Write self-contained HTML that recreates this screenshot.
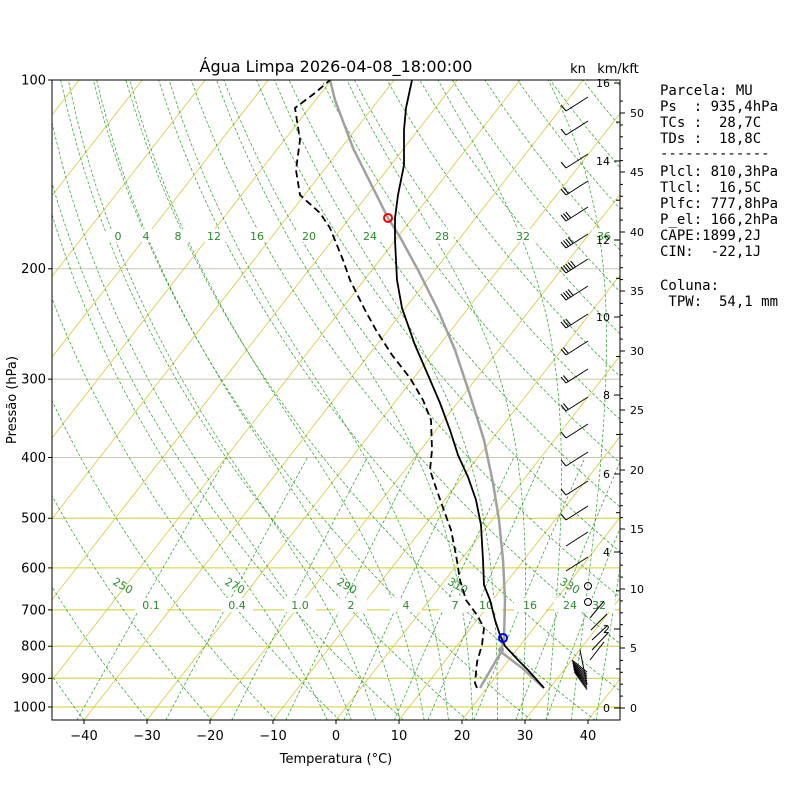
<!DOCTYPE html>
<html><head><meta charset="utf-8"><style>
html,body{margin:0;padding:0;background:#fff;}
svg text{font-family:"DejaVu Sans","Liberation Sans",sans-serif;}
</style></head><body>
<svg id="s" width="800" height="800" xmlns="http://www.w3.org/2000/svg">
<defs><clipPath id="c"><rect x="52" y="80" width="568" height="640"/></clipPath></defs>
<rect width="800" height="800" fill="#fff"/>
<g id="bg" clip-path="url(#c)"></g>
<g id="fg" clip-path="url(#c)"></g>
<rect x="52" y="80" width="568" height="640" fill="none" stroke="#000" stroke-width="1"/>
<g id="ax"></g>
<text x="336" y="72" font-size="16" text-anchor="middle">Água Limpa 2026-04-08_18:00:00</text>
<text x="336" y="763" font-size="13" text-anchor="middle">Temperatura (°C)</text>
<text transform="translate(16,400) rotate(-90)" font-size="13" text-anchor="middle">Pressão (hPa)</text>
<text x="578" y="73" font-size="13" text-anchor="middle">kn</text>
<text x="618" y="73" font-size="13" text-anchor="middle">km/kft</text>
<g font-size="14">
<text x="660" y="95" xml:space="preserve" style="font-family:'DejaVu Sans Mono',monospace">Parcela: MU</text>
<text x="660" y="111" xml:space="preserve" style="font-family:'DejaVu Sans Mono',monospace">Ps  : 935,4hPa</text>
<text x="660" y="127" xml:space="preserve" style="font-family:'DejaVu Sans Mono',monospace">TCs :  28,7C</text>
<text x="660" y="143" xml:space="preserve" style="font-family:'DejaVu Sans Mono',monospace">TDs :  18,8C</text>
<text x="660" y="158" xml:space="preserve" style="font-family:'DejaVu Sans Mono',monospace">-------------</text>
<text x="660" y="176" xml:space="preserve" style="font-family:'DejaVu Sans Mono',monospace">Plcl: 810,3hPa</text>
<text x="660" y="192" xml:space="preserve" style="font-family:'DejaVu Sans Mono',monospace">Tlcl:  16,5C</text>
<text x="660" y="208" xml:space="preserve" style="font-family:'DejaVu Sans Mono',monospace">Plfc: 777,8hPa</text>
<text x="660" y="224" xml:space="preserve" style="font-family:'DejaVu Sans Mono',monospace">P_el: 166,2hPa</text>
<text x="660" y="240" xml:space="preserve" style="font-family:'DejaVu Sans Mono',monospace">CAPE:1899,2J</text>
<text x="660" y="256" xml:space="preserve" style="font-family:'DejaVu Sans Mono',monospace">CIN:  -22,1J</text>
<text x="660" y="290" xml:space="preserve" style="font-family:'DejaVu Sans Mono',monospace">Coluna:</text>
<text x="660" y="306" xml:space="preserve" style="font-family:'DejaVu Sans Mono',monospace"> TPW:  54,1 mm</text>
</g>
</svg>
<script>
var NS="http://www.w3.org/2000/svg";
var S=0.78,K=6.3,X0=336;
function Y(p){return 80+272.3*Math.log(p/100);}
function X(T,y){return X0+K*T+S*(720-y);}
function el(par,tag,a,txt){var e=document.createElementNS(NS,tag);for(var k in a)e.setAttribute(k,a[k]);if(txt!=null)e.textContent=txt;par.appendChild(e);return e;}
var bg=document.getElementById('bg'),fg=document.getElementById('fg'),ax=document.getElementById('ax');
function poly(par,pts,st){el(par,'polyline',Object.assign({points:pts.map(function(q){return q[0].toFixed(1)+','+q[1].toFixed(1)}).join(' '),fill:'none'},st));}
for(var p=100;p<=1000;p+=100){var y=Y(p);el(bg,'line',{x1:52,x2:620,y1:y,y2:y,stroke:p>=500?'#d4c93a':'#c8c8b0','stroke-width':1});}
for(var T=-160;T<=60;T+=10){poly(bg,[[X(T,720),720],[X(T,80),80]],{stroke:'#d4c93a','stroke-width':0.8});}
var G={stroke:'#2a9a2a','stroke-width':0.7,'stroke-dasharray':'3,2'};
for(var th=230;th<=480;th+=10){var pts=[];for(var p=1050;p>=100;p-=10){var t=th*Math.pow(p/1000,0.2857)-273.15;var y=Y(p);pts.push([X(t,y),y]);}poly(bg,pts,G);}
function es(t){return 6.112*Math.exp(17.67*t/(t+243.5));}
function step(p,T,dp){var e=es(T-273.15),rs=0.622*e/(p-e);var L=2.5e6,Rd=287,cp=1005;var d=(Rd*T+L*rs)/(p*(cp+L*L*rs*0.622/(Rd*T*T)));return T+d*dp;}
for(var t0=-4;t0<=40;t0+=4){var pts=[];var Tk=t0+273.15;var p,T;
 var down=[];T=Tk;for(p=1000;p<1050;p+=5){T=step(p,T,5);down.push([p+5,T]);}
 down.reverse().forEach(function(a){var y=Y(a[0]);pts.push([X(a[1]-273.15,y),y]);});
 T=Tk;for(p=1000;p>=100;p-=5){var y=Y(p);pts.push([X(T-273.15,y),y]);T=step(p,T,-5);}
 poly(bg,pts,G);}
var ws=[0.1,0.4,1,2,4,7,10,16,24,32],wl=['0.1','0.4','1.0','2','4','7','10','16','24','32'],wx=[151,237,300,351,406,455,486,530,570,599];
ws.forEach(function(w,i){var pts=[];for(var p=1050;p>=400;p-=10){var e=w*p/(622+w);var l=Math.log(e/6.112);var td=243.5*l/(17.67-l);var y=Y(p);pts.push([X(td,y),y]);}poly(bg,pts,G);
 var x=wx[i];
 el(bg,'rect',{x:x-16,y:598,width:32,height:14,fill:'#fff'});
 el(bg,'text',{x:x,y:609,'font-size':11,fill:'#2a8a2a','text-anchor':'middle'},wl[i]);});
[0,4,8,12,16,20,24,28,32,36].forEach(function(v,i){var x=[118,146,178,214,257,309,370,442,523,604][i];el(bg,'rect',{x:x-12,y:229,width:24,height:13,fill:'#fff'});el(bg,'text',{x:x,y:240,'font-size':11,fill:'#2a8a2a','text-anchor':'middle'},String(v));});
[[250,121,589],[270,233,589],[290,345,589],[310,456,589],[330,568,589]].forEach(function(a){el(bg,'text',{x:a[1],y:a[2],'font-size':11,fill:'#2a8a2a','text-anchor':'middle',transform:'rotate(30 '+a[1]+' '+a[2]+')'},String(a[0]));});
var tp=[[544,688],[528,670],[518,660],[505,646],[500,635],[495,620],[490,600],[484,585],[483,560],[481,525],[476,500],[468,477],[458,455],[450,430],[440,403],[428,375],[415,345],[402,308],[397,280],[395,240],[395,218],[398,195],[404,165],[404,130],[406,108],[412,80]];
var dp=[[477,688],[475,683],[477,662],[482,645],[484,628],[477,615],[466,600],[460,580],[456,555],[451,530],[442,505],[435,485],[430,470],[432,450],[431,420],[423,400],[410,378],[392,355],[376,330],[365,310],[350,280],[343,260],[330,228],[320,213],[300,195],[296,170],[300,140],[295,108],[315,93],[330,80]];
var pp=[[480,688],[501,652],[504,638],[505,600],[503,560],[499,520],[493,483],[484,440],[470,395],[455,350],[438,310],[418,270],[400,237],[388,218],[374,190],[353,148],[335,100],[330,80]];
poly(fg,pp,{stroke:'#a0a0a0','stroke-width':2.5});
poly(fg,[[501,652],[522,668],[544,688]],{stroke:'#a0a0a0','stroke-width':2.5});
el(fg,'circle',{cx:501,cy:650,r:3,fill:'#a0a0a0'});
poly(fg,tp,{stroke:'#000','stroke-width':1.8});
poly(fg,dp,{stroke:'#000','stroke-width':1.8,'stroke-dasharray':'7,4'});
el(fg,'circle',{cx:503,cy:638,r:4,fill:'none',stroke:'#0000ee','stroke-width':2});
el(fg,'circle',{cx:388,cy:218,r:4,fill:'none',stroke:'#ee0000','stroke-width':2});
var bs=[[103,1],[127,1],[160,1],[187,2],[213,3],[240,4],[265,5],[292,4],[320,3],[347,2],[375,2],[403,2],[430,1],[458,1],[487,1],[512,1],[538,0],[563,0]];
bs.forEach(function(b){var y=b[0],bx=566,by=y+8;el(fg,'line',{x1:bx,y1:by,x2:bx+22,y2:by-14,stroke:'#000','stroke-width':1});
 for(var i=0;i<b[1];i++){var ox=bx+i*2.4,oy=by-i*1.5;el(fg,'line',{x1:ox,y1:oy,x2:ox-5,y2:oy-6,stroke:'#000','stroke-width':1});}});
el(fg,'circle',{cx:588,cy:586,r:3.5,fill:'none',stroke:'#000'});
el(fg,'circle',{cx:588,cy:602,r:3.5,fill:'none',stroke:'#000'});
[[590,618,604,601],[591,630,607,614],[592,640,607,626],[592,650,608,633],[590,660,604,642]].forEach(function(a){el(fg,'line',{x1:a[0],y1:a[1],x2:a[2],y2:a[3],stroke:'#000','stroke-width':1});});
for(var i=0;i<9;i++){el(fg,'line',{x1:572+i*0.3,y1:660+i*1.5,x2:587,y2:672+i*2.2,stroke:'#000','stroke-width':1});}
el(fg,'line',{x1:580,y1:650,x2:587,y2:685,stroke:'#000','stroke-width':1});
[100,200,300,400,500,600,700,800,900,1000].forEach(function(p){var y=Y(p);el(ax,'line',{x1:48,x2:52,y1:y,y2:y,stroke:'#000'});el(ax,'text',{x:46,y:y+4.5,'font-size':13,'text-anchor':'end'},String(p));});
for(var T=-40;T<=40;T+=10){var x=X0+K*T;el(ax,'line',{x1:x,x2:x,y1:720,y2:724,stroke:'#000'});el(ax,'text',{x:x,y:740,'font-size':13,'text-anchor':'middle'},T<0?'\u2212'+(-T):String(T));}
el(ax,'line',{x1:620,x2:620,y1:80,y2:720,stroke:'#000'});
[[16,83],[14,161],[12,240],[10,317],[8,395],[6,474],[4,552],[2,629],[0,708]].forEach(function(a){el(ax,'line',{x1:614,x2:620,y1:a[1],y2:a[1],stroke:'#000'});el(ax,'text',{x:610,y:a[1]+4,'font-size':11,'text-anchor':'end'},String(a[0]));});
for(var k=1;k<16;k+=2){var y=708-(708-83)*k/16;el(ax,'line',{x1:616,x2:620,y1:y,y2:y,stroke:'#000'});}
[[50,113],[45,172],[40,232],[35,291],[30,351],[25,410],[20,470],[15,529],[10,589],[5,648],[0,708]].forEach(function(a){el(ax,'line',{x1:620,x2:625,y1:a[1],y2:a[1],stroke:'#000'});el(ax,'text',{x:630,y:a[1]+4,'font-size':11},String(a[0]));});
for(var k=0;k<52;k++){var y=708-(708-113)*k/50;if(k%5&&y>80)el(ax,'line',{x1:620,x2:623,y1:y,y2:y,stroke:'#000'});}
</script>
</body></html>
